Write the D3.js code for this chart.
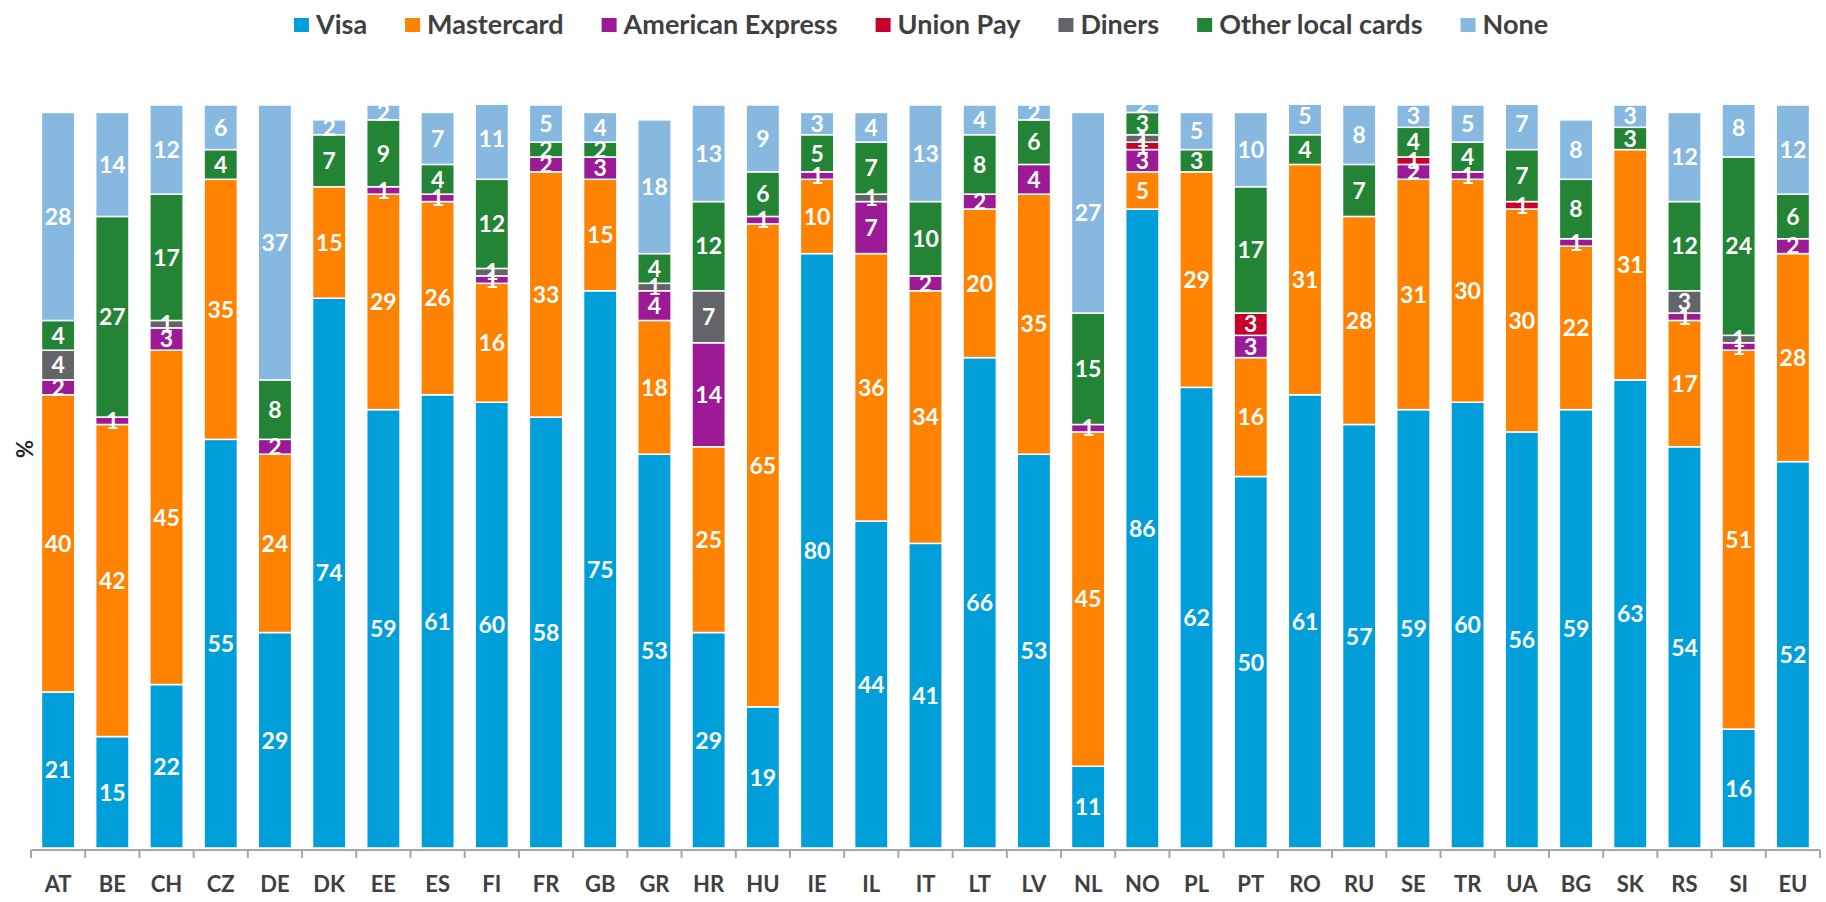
<!DOCTYPE html>
<html>
<head>
<meta charset="utf-8">
<script src="https://cdn.jsdelivr.net/npm/d3@7"></script>
<style>
  body { margin: 0; background: #fff; }
  svg { display: block; font-family: Lato, "Open Sans", sans-serif; }
</style>
</head>
<body>
<svg id="chart" width="1826" height="902"></svg>
<script>
const categories = ["AT","BE","CH","CZ","DE","DK","EE","ES","FI","FR","GB","GR","HR","HU","IE","IL","IT","LT","LV","NL","NO","PL","PT","RO","RU","SE","TR","UA","BG","SK","RS","SI","EU"];

const visa       = [21,15,22,55,29,74,59,61,60,58,75,53,29,19,80,44,41,66,53,11,86,62,50,61,57,59,60,56,59,63,54,16,52];
const mastercard = [40,42,45,35,24,15,29,26,16,33,15,18,25,65,10,36,34,20,35,45, 5,29,16,31,28,31,30,30,22,31,17,51,28];
const amex       = [ 2, 1, 3, 0, 2, 0, 1, 1, 1, 2, 3, 4,14, 1, 1, 7, 2, 2, 4, 1, 3, 0, 3, 0, 0, 2, 1, 0, 1, 0, 1, 1, 2];
const unionPay   = [ 0, 0, 0, 0, 0, 0, 0, 0, 0, 0, 0, 0, 0, 0, 0, 0, 0, 0, 0, 0, 1, 0, 3, 0, 0, 1, 0, 1, 0, 0, 0, 0, 0];
const diners     = [ 4, 0, 1, 0, 0, 0, 0, 0, 1, 0, 0, 1, 7, 0, 0, 1, 0, 0, 0, 0, 1, 0, 0, 0, 0, 0, 0, 0, 0, 0, 3, 1, 0];
const otherLocal = [ 4,27,17, 4, 8, 7, 9, 4,12, 2, 2, 4,12, 6, 5, 7,10, 8, 6,15, 3, 3,17, 4, 7, 4, 4, 7, 8, 3,12,24, 6];
const none       = [28,14,12, 6,37, 2, 2, 7,11, 5, 4,18,13, 9, 3, 4,13, 4, 2,27, 2, 5,10, 5, 8, 3, 5, 7, 8, 3,12, 8,12];

const seriesNames  = ["Visa","Mastercard","American Express","Union Pay","Diners","Other local cards","None"];
const seriesColors = ["#009fda","#ff8200","#9c1a96","#c8002c","#636467","#228434","#86b8e0"];
const seriesValues = [visa, mastercard, amex, unionPay, diners, otherLocal, none];

const rows = categories.map((c, i) => {
  const r = { cat: c };
  seriesNames.forEach((s, k) => r[s] = seriesValues[k][i]);
  return r;
});

const svg = d3.select("#chart");
const plotLeft = 31, plotRight = 1820, plotBase = 848, plotTop = 105;
const axisY = 850;

const x = d3.scaleBand().domain(categories).range([plotLeft, plotRight])
  .paddingInner(0.385).paddingOuter(0.1925);
const y = d3.scaleLinear().domain([0, 100]).range([plotBase, plotTop]);
const color = d3.scaleOrdinal().domain(seriesNames).range(seriesColors);

const stacked = d3.stack().keys(seriesNames)(rows);

svg.append("defs").append("clipPath").attr("id", "plot")
  .append("rect").attr("x", 0).attr("y", plotTop).attr("width", 1826).attr("height", plotBase - plotTop + 2);

const plot = svg.append("g").attr("clip-path", "url(#plot)");

const layers = plot.selectAll("g.layer")
  .data(stacked)
  .enter()
  .append("g")
  .attr("class", "layer")
  .attr("fill", d => color(d.key));

layers.selectAll("rect")
  .data(d => d)
  .enter()
  .append("rect")
  .attr("x", d => x(d.data.cat))
  .attr("width", x.bandwidth())
  .attr("y", d => y(d[1]))
  .attr("height", d => y(d[0]) - y(d[1]))
  .attr("stroke", "#fff")
  .attr("stroke-width", 1.5);

const labelData = stacked.flatMap(s => s.filter(d => d[1] - d[0] > 0));
plot.selectAll("text.val")
  .data(labelData)
  .enter()
  .append("text")
  .attr("class", "val")
  .attr("x", d => x(d.data.cat) + x.bandwidth() / 2)
  .attr("y", d => y((d[0] + d[1]) / 2))
  .attr("dy", "0.36em")
  .attr("text-anchor", "middle")
  .attr("fill", "#fff")
  .attr("font-weight", "bold")
  .attr("font-size", 23)
  .text(d => d[1] - d[0]);

// x axis: labels from the band scale, separators at band edges
const axis = svg.append("g")
  .attr("transform", `translate(0,${axisY})`)
  .call(d3.axisBottom(x).tickSize(0).tickPadding(26));
axis.select(".domain").remove();
axis.selectAll("text")
  .attr("font-family", "Lato, 'Open Sans', sans-serif")
  .attr("font-size", 22)
  .attr("font-weight", "bold")
  .attr("fill", "#404040");

svg.append("line")
  .attr("x1", plotLeft).attr("x2", plotRight)
  .attr("y1", axisY).attr("y2", axisY)
  .attr("stroke", "#a6a6a6").attr("stroke-width", 2);

const edges = d3.range(categories.length + 1).map(i => plotLeft + i * x.step());
svg.selectAll("line.sep")
  .data(edges)
  .enter()
  .append("line")
  .attr("class", "sep")
  .attr("x1", d => d).attr("x2", d => d)
  .attr("y1", axisY).attr("y2", axisY + 8)
  .attr("stroke", "#a6a6a6").attr("stroke-width", 2);

svg.append("text")
  .attr("transform", "translate(25,449) rotate(-90)")
  .attr("text-anchor", "middle")
  .attr("dy", "0.36em")
  .attr("font-size", 22)
  .attr("font-weight", "bold")
  .attr("fill", "#262626")
  .text("%");

// legend, centred above the plot
const legend = svg.append("g");
const items = legend.selectAll("g.item")
  .data(seriesNames)
  .enter()
  .append("g")
  .attr("class", "item");
items.append("rect")
  .attr("y", 18).attr("width", 15).attr("height", 14)
  .attr("fill", d => color(d));
items.append("text")
  .attr("x", 22).attr("y", 24.5).attr("dy", "0.36em")
  .attr("font-size", 27)
  .attr("font-weight", "bold")
  .attr("fill", "#404040")
  .text(d => d);

let pos = 0;
items.each(function () {
  d3.select(this).attr("transform", `translate(${pos},0)`);
  pos += 22 + this.querySelector("text").getComputedTextLength() + 38;
});
const legendWidth = pos - 38;
legend.attr("transform", `translate(${921 - legendWidth / 2},0)`);
</script>
</body>
</html>
